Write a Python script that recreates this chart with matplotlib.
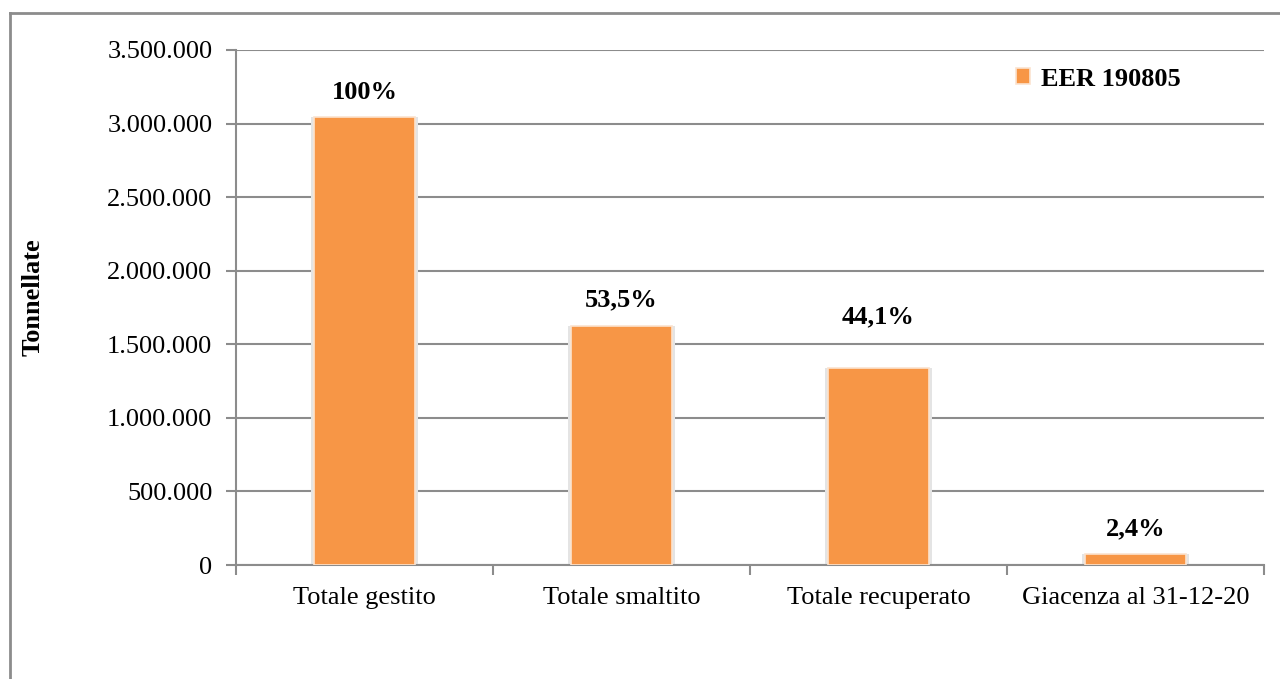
import numpy as np
import matplotlib.pyplot as plt
from matplotlib.lines import Line2D
from matplotlib.ticker import FuncFormatter

plt.rcParams['font.family'] = ['Liberation Serif', 'DejaVu Serif']

categorie = ['Totale gestito', 'Totale smaltito', 'Totale recuperato', 'Giacenza al 31-12-20']
tonnellate = [3042000, 1627000, 1342000, 73000]
etichette = ['100%', '53,5%', '44,1%', '2,4%']
serie = 'EER 190805'
# spostamento verticale delle etichette (in punti)
offset_etich = [10, 10, 28, 10]

arancio = '#F79646'
grigio = '#8C8C8C'
fs = 19

fig = plt.figure(figsize=(12.8, 6.79), dpi=100)
ax = fig.add_axes([236/1280, 1-565/679, (1264-236)/1280, (565-50)/679])

x = np.arange(len(categorie))
ax.bar(x, tonnellate, width=0.415, color='#e4e4e4', zorder=2)  # ombra leggera
ax.bar(x, tonnellate, width=0.39, color=arancio, edgecolor='#fbe3cf', linewidth=1.2, zorder=3, label=serie)

for xi, v, t, off in zip(x, tonnellate, etichette, offset_etich):
    ax.annotate(t, (xi, v), xytext=(0, off), textcoords='offset points',
                ha='center', va='bottom', fontsize=fs, fontweight='bold')

ax.set_xlim(-0.5, len(categorie) - 0.5)
ax.set_ylim(0, 3500000)
ax.set_yticks(np.arange(0, 3500001, 500000))
ax.yaxis.set_major_formatter(FuncFormatter(lambda v, p: f'{int(v):,}'.replace(',', '.')))
ax.grid(axis='y', color=grigio, linewidth=1.5, zorder=0)
ax.set_axisbelow(True)

ax.set_xticks(x)
ax.set_xticklabels(categorie)
ax.set_xticks(np.arange(-0.5, len(categorie)), minor=True)
ax.tick_params(axis='x', which='major', length=0, pad=16, labelsize=fs)
ax.tick_params(axis='x', which='minor', length=7, width=1.5, color=grigio)
ax.tick_params(axis='y', length=7, width=1.5, color=grigio, pad=10, labelsize=fs)

for s in ['top', 'right']:
    ax.spines[s].set_visible(False)
for s in ['left', 'bottom']:
    ax.spines[s].set_color(grigio)
    ax.spines[s].set_linewidth(1.5)

fig.text(33/1280, 1-297/679, 'Tonnellate', rotation=90, ha='center', va='center',
         fontsize=fs, fontweight='bold')

leg = fig.legend(loc='center left', bbox_to_anchor=(992/1280, 1-79/679), frameon=False,
                 handlelength=0.55, handleheight=0.55, handletextpad=0.4,
                 prop={'size': fs, 'weight': 'bold'})

# cornice del grafico
fig.add_artist(Line2D([10/1280, 10/1280], [0, 1-13/679], color=grigio, linewidth=2))
fig.add_artist(Line2D([10/1280, 1], [1-13/679, 1-13/679], color=grigio, linewidth=2))

fig.savefig('out.png', dpi=100)
